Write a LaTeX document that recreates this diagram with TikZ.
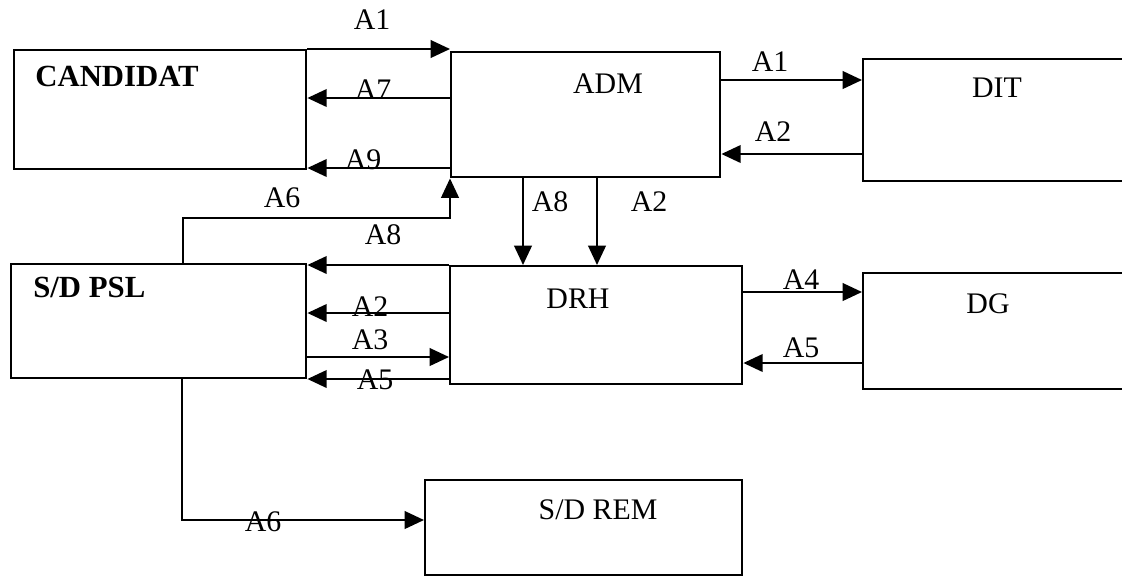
\documentclass[tikz,border=0pt]{standalone}
\usepackage{fontspec}
\setmainfont{Liberation Serif}
\usetikzlibrary{arrows.meta}
\tikzset{
  font=\fontsize{17}{20}\selectfont,     % one size for every text
  unit/.style  = {rectangle, draw, line width=1.4pt, inner sep=0pt,
                  anchor=north west},
  title/.style = {inner sep=0pt, text height=11.3pt, text depth=0pt},
  tag/.style   = {inner sep=0pt, text height=11.3pt, text depth=0pt},
  flow/.style  = {line width=1.2pt, -{Triangle[length=11pt,width=10pt]}}
}

\begin{document}
\begin{tikzpicture}[x=0.02cm, y=-0.02cm]
  \clip (0,0) rectangle (1122,576);
  % units
  \node[unit, minimum width=5.84cm, minimum height=2.38cm] (cand) at (13,49) {};
  \node[unit, minimum width=5.38cm, minimum height=2.50cm] (adm)  at (450,51) {};
  \node[unit, minimum width=6.00cm, minimum height=2.44cm] (dit)  at (862,58) {};
  \node[unit, minimum width=5.90cm, minimum height=2.28cm] (psl)  at (10,263) {};
  \node[unit, minimum width=5.84cm, minimum height=2.36cm] (drh)  at (449,265) {};
  \node[unit, minimum width=6.00cm, minimum height=2.32cm] (dg)   at (862,272) {};
  \node[unit, minimum width=6.34cm, minimum height=1.90cm] (rem)  at (424,479) {};
  \node[title, anchor=west, font=\fontsize{17.5}{20}\selectfont\bfseries] (cand-t) at (35,77) {CANDIDAT};
  \node[title] (adm-t) at (608,84) {ADM};
  \node[title] (dit-t) at (997,88) {DIT};
  \node[title, anchor=west, font=\fontsize{17.5}{20}\selectfont\bfseries] (psl-t) at (33,288) {S/D PSL};
  \node[title] (drh-t) at (578,299) {DRH};
  \node[title] (dg-t)  at (988,304) {DG};
  \node[title] (rem-t) at (598,510) {S/D REM};
  % flows
  \draw[flow] (cand.north east) -- (cand.north east -| adm.west);
  \draw[flow] (adm.west |- 0,98) -- (cand.east |- 0,98);
  \draw[flow] (adm.west |- 0,168) -- (cand.east |- 0,168);
  \draw[flow] (psl.north -| 183,0) |- (adm.south west |- 0,218) -- (adm.south west);
  \draw[flow] (adm.south -| 523,0) -- (drh.north -| 523,0);
  \draw[flow] (adm.south -| 597,0) -- (drh.north -| 597,0);
  \draw[flow] (adm.east |- 0,80) -- (dit.west |- 0,80);
  \draw[flow] (dit.west |- 0,154) -- (adm.east |- 0,154);
  \draw[flow] (drh.north west) -- (drh.north west -| psl.east);
  \draw[flow] (drh.west |- 0,313) -- (psl.east |- 0,313);
  \draw[flow] (psl.east |- 0,357) -- (drh.west |- 0,357);
  \draw[flow] (drh.west |- 0,379) -- (psl.east |- 0,379);
  \draw[flow] (drh.east |- 0,292) -- (dg.west |- 0,292);
  \draw[flow] (dg.west |- 0,363) -- (drh.east |- 0,363);
  \draw[flow] (psl.south -| 182,0) |- (rem.west |- 0,520);
  % labels
  \node[tag] (t-a1)  at (372,20)  {A1};
  \node[tag] (t-a7)  at (373,90)  {A7};
  \node[tag] (t-a9)  at (363,160) {A9};
  \node[tag] (t-a6)  at (282,198) {A6};
  \node[tag] (t-a8)  at (383,235) {A8};
  \node[tag] (t-a8d) at (550,202) {A8};
  \node[tag] (t-a2d) at (649,202) {A2};
  \node[tag] (t-a1r) at (770,62)  {A1};
  \node[tag] (t-a2r) at (773,132) {A2};
  \node[tag] (t-a2l) at (370,307) {A2};
  \node[tag] (t-a3)  at (370,340) {A3};
  \node[tag] (t-a5l) at (375,380) {A5};
  \node[tag] (t-a4)  at (801,280) {A4};
  \node[tag] (t-a5r) at (801,348) {A5};
  \node[tag] (t-a6b) at (263,522) {A6};
\end{tikzpicture}
\end{document}
